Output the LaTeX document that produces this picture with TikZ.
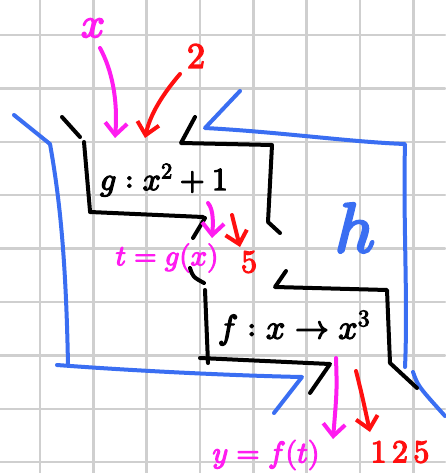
\documentclass[tikz,border=0pt]{standalone}
\usepackage{unicode-math}
\setmathfont{Latin Modern Math}[FakeBold=4]
\usetikzlibrary{arrows.meta}
\definecolor{mag}{HTML}{FF1CF0}
\definecolor{rd}{HTML}{FF1010}
\definecolor{bl}{HTML}{3A6EF2}
\definecolor{gridc}{HTML}{CFCFCF}
\begin{document}
\begin{tikzpicture}[x=1pt,y=-1pt,line cap=round,line join=round,
  ink/.style={line width=4pt},
  gridline/.style={draw=gridc,line width=2.5pt},
  tip/.style={-{Straight Barb[length=12pt,width=22pt]}},
  lbl/.style={inner sep=0pt,outer sep=0pt}]
\useasboundingbox (0,0) rectangle (445,473);
\fill[white] (0,0) rectangle (445,473);
% grid
\foreach \i in {0,...,7} \draw[gridline] ({40+53.33*\i},0) -- ({40+53.33*\i},473);
\foreach \j in {0,...,8} \draw[gridline] (0,{35+53.4*\j}) -- (445,{35+53.4*\j});
% labels
\node[lbl,text=mag,font=\fontsize{42}{42}\selectfont] (xin) at (93,28) {$x$};
\node[lbl,text=rd,font=\fontsize{36}{36}\selectfont] (two) at (196,56) {$2$};
\node[lbl,font=\fontsize{32}{32}\selectfont,anchor=base west] (gtext) at (100,190) {$g:x^2+1$};
\node[lbl,text=mag,font=\fontsize{29}{29}\selectfont] (ttext) at (167,258) {$t=g(x)$};
\node[lbl,text=rd,font=\fontsize{32}{32}\selectfont] (five) at (249,262) {$5$};
\node[lbl,font=\fontsize{34}{34}\selectfont] (ftext) at (294,328) {$f:x\rightarrow x^3$};
\node[lbl,text=mag,font=\fontsize{30}{30}\selectfont] (ytext) at (266,455) {$y=f(t)$};
\node[lbl,text=rd,font=\fontsize{32}{32}\selectfont] (out) at (400,452) {$1\,2\,5$};
\node[lbl,text=bl,font=\fontsize{70}{70}\selectfont] (h) at (355,228) {$h$};
% blue outer machine h
\draw[ink,bl] (14,115) -- (50,144) .. controls (60,200) and (66,260) .. (68,365);
\draw[ink,bl] (57,365) .. controls (150,372) and (250,376) .. (302,377) -- (274,413);
\draw[ink,bl] (240,91) -- (205,128) .. controls (280,132) and (350,142) .. (405,144)
   .. controls (403,220) and (408,300) .. (405,367);
\draw[ink,bl] (413,372) .. controls (418,386) .. (445,416);
% black box g
\draw[ink] (62,117) -- (80,137);
\draw[ink] (84,142) -- (90,211);
\draw[ink] (90,212) -- (203,217);
\draw[ink] (205,218) -- (193,238);
\draw[ink] (195,117) -- (181,143) -- (272,145) -- (268,222) -- (280,233);
% black box f
\draw[ink] (190,268) .. controls (193,277) .. (204,283);
\draw[ink] (205,290) -- (208,363);
\draw[ink] (200,358) -- (330,364) -- (310,393);
\draw[ink] (286,271) -- (275,287) -- (387,290) -- (390,363) -- (417,388);
% arrow end points
\coordinate (xs) at (100,48);  \coordinate (xe) at (115,138);
\coordinate (ts) at (180,74);  \coordinate (te) at (145,138);
\coordinate (gm) at (208,203); \coordinate (gme) at (212,238);
\coordinate (gr) at (232,215); \coordinate (gre) at (240,247);
\coordinate (fm) at (336,358); \coordinate (fme) at (333,439);
\coordinate (fr) at (356,371); \coordinate (fre) at (370,432);
% arrows
\draw[ink,mag,tip] (xs) .. controls (112,70) and (118,100) .. (xe);
\draw[ink,rd,tip] (ts) .. controls (162,95) and (150,115) .. (te);
\draw[ink,mag,tip] (gm) .. controls (214,210) and (213,225) .. (gme);
\draw[ink,rd,tip] (gr) .. controls (235,228) .. (gre);
\draw[ink,mag,tip] (fm) .. controls (337,390) .. (fme);
\draw[ink,rd,tip] (fr) .. controls (362,395) .. (fre);
\end{tikzpicture}
\end{document}
